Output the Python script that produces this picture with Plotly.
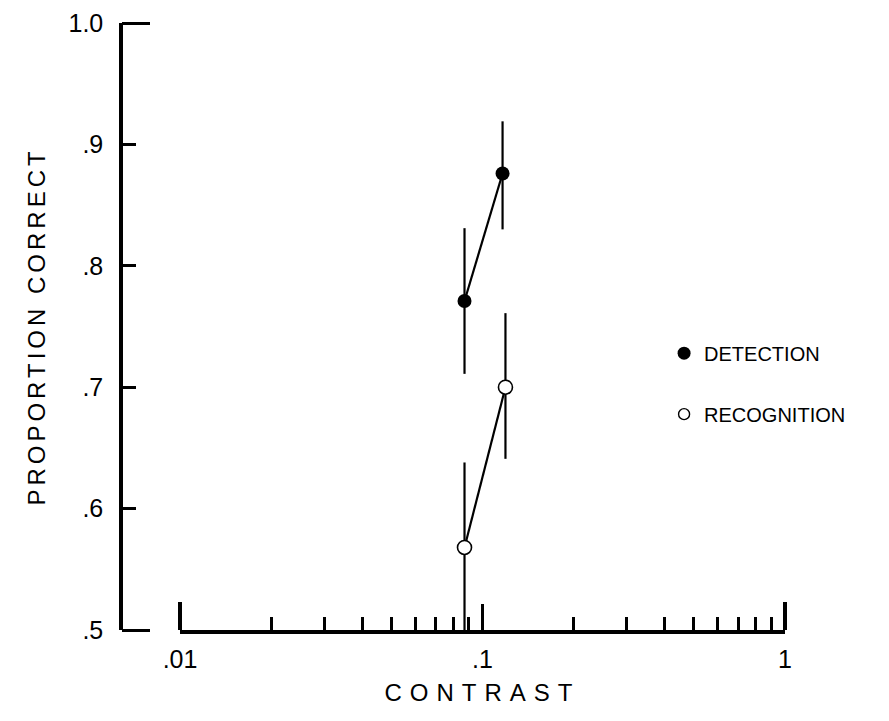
import plotly.graph_objects as go

# ---- data ----
det_contrast = [0.0872, 0.1165]
det_prop = [0.771, 0.876]
det_err_plus = [0.060, 0.043]
det_err_minus = [0.060, 0.046]

rec_contrast = [0.0872, 0.1191]
rec_prop = [0.568, 0.700]
rec_err_plus = [0.070, 0.061]
rec_err_minus = [0.068, 0.059]

y_tickvals = [0.5, 0.6, 0.7, 0.8, 0.9, 1.0]
y_ticktext = [".5", ".6", ".7", ".8", ".9", "1.0"]
x_tickvals = [0.01, 0.1, 1]
x_ticktext = [".01", ".1", "1"]
x_minor = [m * d for d in (0.01, 0.1) for m in range(2, 10)]
x_end_ticks = [0.01, 1]
y_end_ticks = [0.5, 1.0]

FONT = "Liberation Sans, Arial, sans-serif"
W, H = 889, 721
OFF = 8  # page body margin
X0, X1 = 180 - OFF, 785 - OFF      # pixel span of .01 .. 1
Y0, Y1 = 630 - OFF, 23 - OFF       # pixel span of .5 .. 1.0
xd = [X0 / W, X1 / W]
yd = [1 - Y0 / H, 1 - Y1 / H]
ypos = (121 - OFF) / W

# helper axes (slightly extended) so that ticks at the range ends are drawn
XPAD = 0.02                                   # decades
xpx = (X1 - X0) / 2.0 * XPAD
xd2 = [(X0 - xpx) / W, (X1 + xpx) / W]
YPAD = 0.005
ypx = (Y0 - Y1) / 0.5 * YPAD
yd2 = [1 - (Y0 + ypx) / H, 1 - (Y1 - ypx) / H]

fig = go.Figure()
fig.add_trace(go.Scatter(
    x=det_contrast, y=det_prop, mode="lines+markers", showlegend=False,
    line=dict(color="black", width=2.2),
    marker=dict(symbol="circle", size=14, color="black"),
    error_y=dict(type="data", symmetric=False, array=det_err_plus,
                 arrayminus=det_err_minus, width=0, thickness=2.2, color="black"),
))
fig.add_trace(go.Scatter(
    x=rec_contrast, y=rec_prop, mode="lines+markers", showlegend=False,
    line=dict(color="black", width=2.2),
    marker=dict(symbol="circle", size=14, color="white",
                line=dict(color="black", width=1.6)),
    error_y=dict(type="data", symmetric=False, array=rec_err_plus,
                 arrayminus=rec_err_minus, width=0, thickness=2.2, color="black"),
))
# legend-only entries
fig.add_trace(go.Scatter(
    x=[None], y=[None], mode="markers", name="DETECTION", legendgroup="a",
    marker=dict(symbol="circle", size=13, color="black"),
))
fig.add_trace(go.Scatter(
    x=[None], y=[None], mode="markers", name="RECOGNITION", legendgroup="b",
    marker=dict(symbol="circle", size=11, color="white",
                line=dict(color="black", width=1.4)),
))
# helper traces for the end-tick axes
fig.add_trace(go.Scatter(x=[None], y=[None], xaxis="x", yaxis="y2", showlegend=False))
fig.add_trace(go.Scatter(x=[None], y=[None], xaxis="x2", yaxis="y", showlegend=False))

fig.update_layout(
    width=W, height=H,
    margin=dict(l=0, r=0, t=0, b=0),
    paper_bgcolor="white", plot_bgcolor="rgba(0,0,0,0)",
    font=dict(family=FONT, color="black", size=20),
    xaxis=dict(
        type="log", domain=xd, range=[-2, 0],
        showgrid=False, zeroline=False,
        showline=True, linecolor="black", linewidth=4,
        ticks="inside", ticklen=26, tickwidth=3, tickcolor="black",
        tickvals=x_tickvals, ticktext=x_ticktext,
        tickfont=dict(size=25), ticklabelstandoff=4,
        minor=dict(tickvals=x_minor, ticks="inside", ticklen=13,
                   tickwidth=2.5, tickcolor="black", showgrid=False),
        title=dict(text='<span style="letter-spacing:8px">CONTRAST</span>',
                   font=dict(size=24), standoff=13),
        automargin=False,
    ),
    xaxis2=dict(
        type="log", domain=xd2, range=[-2 - XPAD, XPAD], anchor="y",
        showgrid=False, zeroline=False, showline=False,
        ticks="inside", ticklen=28, tickwidth=3.5, tickcolor="black",
        tickvals=x_end_ticks, showticklabels=False,
    ),
    yaxis=dict(
        domain=yd, range=[0.5, 1.0], anchor="free", position=ypos,
        showgrid=False, zeroline=False,
        showline=True, linecolor="black", linewidth=3.5,
        ticks="inside", ticklen=13, tickwidth=3, tickcolor="black",
        tickvals=y_tickvals, ticktext=y_ticktext,
        tickfont=dict(size=25), ticklabelstandoff=11,
        title=dict(text='<span style="letter-spacing:4px">PROPORTION CORRECT</span>',
                   font=dict(size=24), standoff=15),
        automargin=False,
    ),
    yaxis2=dict(
        domain=yd2, range=[0.5 - YPAD, 1.0 + YPAD], anchor="free", position=ypos,
        showgrid=False, zeroline=False, showline=False,
        ticks="inside", ticklen=28, tickwidth=3, tickcolor="black",
        tickvals=y_end_ticks, showticklabels=False,
    ),
    legend=dict(
        x=0.738, y=0.479, xanchor="left", yanchor="middle",
        font=dict(size=20), tracegroupgap=32, bgcolor="rgba(0,0,0,0)",
    ),
)

fig.write_html("out.html")
